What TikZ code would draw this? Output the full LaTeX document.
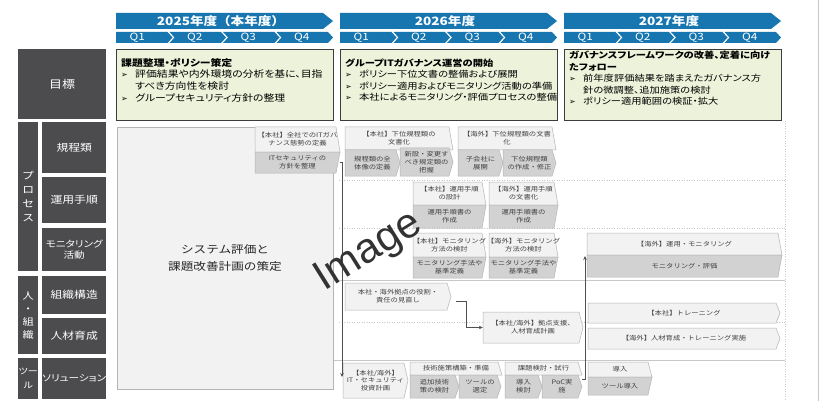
\documentclass[tikz,border=0pt]{standalone}
\usepackage{fontspec}
\setmainfont{Noto Sans CJK JP}[FakeStretch=1.18]
\newfontfamily\labfont{Noto Sans CJK JP}[FakeStretch=1.18,RawFeature=+palt]
\newfontfamily\goalfam{Noto Sans CJK JP}[FakeStretch=1.18,RawFeature=+palt]
\newfontfamily\dejavu{DejaVu Sans}
\newfontfamily\wmfont{Liberation Sans}
\usetikzlibrary{arrows.meta,calc}
\definecolor{hdr}{RGB}{23,117,176}
\definecolor{labg}{RGB}{76,76,78}
\definecolor{goalf}{RGB}{237,243,218}
\definecolor{goalb}{RGB}{60,60,60}
\definecolor{cellL}{RGB}{242,242,242}
\definecolor{cellD}{RGB}{210,210,210}
\definecolor{cellB}{RGB}{180,180,180}
\definecolor{celltext}{RGB}{64,64,64}
\definecolor{gridc}{RGB}{200,200,200}
\definecolor{arrc}{RGB}{80,80,80}
\newcommand\goalfont{\goalfam\fontsize{8.7}{11.5}\selectfont}
\newcommand\goalfontA{\goalfam\fontsize{9.2}{11.7}\selectfont}
\newcommand\hdrfont{\bfseries\fontsize{11.5}{12}\selectfont}
\newcommand\qfont{\fontsize{10}{11}\selectfont}
\newcommand\celfont{\fontsize{6.2}{7.8}\selectfont}
\newcommand\bigfont{\fontsize{10.7}{17}\selectfont}
\newcommand\bulmark{\makebox[14pt][l]{\dejavu\fontsize{8}{8}\selectfont ➢}}
\newcommand\bulgap{\hspace*{14pt}}
\newcommand{\PartUp}[6]{%
  \path[uppart] (#2,#3) -- ({#4-4},#3) -- (#4,#5) -- (#2,#5) -- cycle;
  \node[celltxt,minimum width={(#4-#2)*1pt},minimum height={(#5-#3)*1pt}] (#1) at ({(#2+#4)/2},{(#3+#5)/2}) {#6};}
\newcommand{\PartLo}[6]{%
  \path[lopart] (#2,#3) -- (#4,#3) -- ({#4-4},#5) -- (#2,#5) -- cycle;
  \node[celltxt,minimum width={(#4-#2)*1pt},minimum height={(#5-#3)*1pt}] (#1) at ({(#2+#4)/2},{(#3+#5)/2}) {#6};}
\newcommand{\PentBox}[7]{%
  \path[#1] (#3,#4) -- ({#5-4},#4) -- (#5,{(#4+#6)/2}) -- ({#5-4},#6) -- (#3,#6) -- cycle;
  \node[celltxt,minimum width={(#5-#3)*1pt},minimum height={(#6-#4)*1pt}] (#2) at ({(#3+#5)/2},{(#4+#6)/2}) {#7};}
\begin{document}
\begin{tikzpicture}[x=1pt,y=-1pt,
  lab/.style={fill=labg,text=white,inner sep=0pt,align=center,anchor=north west},
  goalbox/.style={fill=goalf,draw=goalb,line width=0.9pt,inner sep=0pt,anchor=north west},
  goaltxt/.style={anchor=north west,inner sep=0pt,align=left,text=black,font=\goalfont},
  hdrshape/.style={fill=hdr},
  hdrtxt/.style={text=white,inner sep=0pt,font=\hdrfont},
  qtxt/.style={text=white,inner sep=0pt,font=\qfont},
  uppart/.style={fill=cellL,draw=cellB,line width=0.5pt},
  lopart/.style={fill=cellD,draw=cellB,line width=0.5pt},
  celltxt/.style={inner sep=0pt,align=center,text=celltext,font=\celfont},
  bigbox/.style={fill=cellL,draw=cellB,line width=0.6pt,inner sep=0pt,anchor=north west},
  gridsolid/.style={draw=gridc,line width=0.6pt},
  griddot/.style={draw=gridc,line width=0.6pt,dash pattern=on 1pt off 1.5pt},
  arr/.style={draw=arrc,line width=0.7pt,-{Stealth[length=4pt,width=3.5pt]}},
  wm/.style={font={\wmfont\fontsize{42}{42}\selectfont},text=black!80,inner sep=0pt}
]
\useasboundingbox (0,0) rectangle (827,401);
\fill[white] (0,0) rectangle (827,401);
\draw[gridc,line width=0.8pt] (818,0) -- (818,401);

% header
\foreach \xa/\ylab/\nm in {116/{2025年度（本年度）}/y25, 340/{2026年度}/y26, 564/{2027年度}/y27}{
  \fill[hdrshape] (\xa,13) -- ({\xa+207},13) -- ({\xa+217},21) -- ({\xa+207},29) -- (\xa,29) -- cycle;
  \node[hdrtxt] (\nm) at ({\xa+105},21) {\ylab};
  \foreach \q in {1,2,3,4}{
    \pgfmathsetmacro\qs{\xa+(\q-1)*53.5}
    \pgfmathsetmacro\qe{\qs+56.5}
    \pgfmathsetmacro\qn{ifthenelse(\q==1,0,5)}
    \pgfmathsetmacro\qc{(\qs+\qe)/2-3-ifthenelse(\q==1,4,0)}
    \fill[hdrshape] (\qs,32) -- ({\qe-5},32) -- (\qe,37.5) -- ({\qe-5},43) -- (\qs,43) -- ({\qs+\qn},37.5) -- cycle;
    \node[qtxt] (\nm q\q) at (\qc,37.5) {Q\q};
  }
}

% left labels
\node[lab,minimum width=88pt,minimum height=70pt,font={\labfont\fontsize{11}{13}\selectfont}] (Lgoal) at (18,49) {目標};
\node[lab,minimum width=20pt,minimum height=149pt,font={\labfont\fontsize{10}{14}\selectfont}] (Lproc) at (18,122) {プ\\ロ\\セ\\ス};
\node[lab,minimum width=64pt,minimum height=51pt,font={\labfont\fontsize{10}{12}\selectfont}] (Lkitei) at (42,122) {規程類};
\node[lab,minimum width=64pt,minimum height=46pt,font={\labfont\fontsize{10}{12}\selectfont}] (Lunyo) at (42,177) {運用手順};
\node[lab,minimum width=64pt,minimum height=43pt,font={\labfont\fontsize{9}{11.5}\selectfont}] (Lmon) at (42,228) {モニタリング\\活動};
\node[lab,minimum width=20pt,minimum height=78pt,font={\labfont\fontsize{9.5}{13}\selectfont}] (Lhito) at (18,276) {人\\・\\組\\織};
\node[lab,minimum width=64pt,minimum height=38pt,font={\labfont\fontsize{10}{12}\selectfont}] (Lsosh) at (42,276) {組織構造};
\node[lab,minimum width=64pt,minimum height=36pt,font={\labfont\fontsize{10}{12}\selectfont}] (Ljinz) at (42,318) {人材育成};
\node[lab,minimum width=20pt,minimum height=41pt,font={\labfont\fontsize{8.5}{14}\selectfont}] (Ltool) at (18,358) {ツー\\ル};
\node[lab,minimum width=64pt,minimum height=41pt,font={\labfont\fontsize{9}{12}\selectfont}] (Lsol) at (42,358) {ソリューション};

% goal boxes
\node[goalbox,minimum width=217pt,minimum height=71pt] (g25) at (116,49) {};
\node[goaltxt,font=\goalfontA] (g25t) at (121,58) {\textbf{課題整理・ポリシー策定}\\
\bulmark 評価結果や内外環境の分析を基に、目指\\
\bulgap すべき方向性を検討\\
\bulmark グループセキュリティ方針の整理};
\node[goalbox,minimum width=217pt,minimum height=71pt] (g26) at (340,49) {};
\node[goaltxt] (g26t) at (345,58.5) {\textbf{グループITガバナンス運営の開始}\\
\bulmark ポリシー下位文書の整備および展開\\
\bulmark ポリシー適用およびモニタリング活動の準備\\
\bulmark 本社によるモニタリング・評価プロセスの整備};
\node[goalbox,minimum width=217pt,minimum height=71pt] (g27) at (564,49) {};
\node[goaltxt] (g27t) at (569,51) {\textbf{ガバナンスフレームワークの改善、定着に向け}\\
\textbf{たフォロー}\\
\bulmark 前年度評価結果を踏まえたガバナンス方\\
\bulgap 針の微調整、追加施策の検討\\
\bulmark ポリシー適用範囲の検証・拡大};

% grid
\draw[griddot] (339,180) -- (785,180);
\draw[griddot] (339,228) -- (785,228);
\draw[griddot] (339,322) -- (785,322);
\draw[gridsolid] (333,280) -- (785,280);
\draw[gridsolid] (333,360) -- (785,360);
\draw[griddot] (785,121) -- (785,401);

% big box
\node[bigbox,minimum width=216pt,minimum height=262pt] (sys) at (117,127) {};
\node[inner sep=0pt,align=center,text=black!85,font=\bigfont] (syst) at (225,258) {システム評価と\\課題改善計画の策定};

% cells
\PartUp{c1u}{255}{127}{340}{152}{【本社】全社でのITガバ\\ナンス態勢の定義}
\PartLo{c1l}{255}{152}{340}{173}{ITセキュリティの\\方針を整理}
\PartUp{c2u}{345}{127}{453}{150}{【本社】下位規程類の\\文書化}
\PentBox{lopart}{c2a}{345}{150}{400}{176}{規程類の全\\体像の定義}
\PentBox{lopart}{c2b}{400}{148}{453}{176}{新設・変更す\\べき規定類の\\把握}
\PartUp{c3u}{458}{127}{556}{150}{【海外】下位規程類の文書\\化}
\PentBox{lopart}{c3a}{458}{150}{503}{176}{子会社に\\展開}
\PentBox{lopart}{c3b}{503}{150}{556}{176}{下位規程類\\の作成・修正}
\PartUp{c4u}{413}{182}{486}{205}{【本社】運用手順\\の設計}
\PartLo{c4l}{413}{205}{486}{228}{運用手順書の\\作成}
\PartUp{c5u}{489}{182}{558}{205}{【海外】運用手順\\の文書化}
\PartLo{c5l}{489}{205}{558}{228}{運用手順書の\\作成}
\PartUp{c6u}{413}{233}{486}{257}{【本社】モニタリング\\方法の検討}
\PartLo{c6l}{413}{257}{486}{278}{モニタリング手法や\\基準定義}
\PartUp{c7u}{489}{233}{558}{257}{【海外】モニタリング\\方法の検討}
\PartLo{c7l}{489}{257}{558}{278}{モニタリング手法や\\基準定義}
\PartUp{c8u}{587}{233}{782}{255}{【海外】運用・モニタリング}
\PartLo{c8l}{587}{255}{782}{277}{モニタリング・評価}
\PentBox{uppart}{role}{345}{283}{451}{310}{本社・海外拠点の役割・\\責任の見直し}
\PentBox{uppart}{sup}{483}{312}{583}{343}{【本社/海外】拠点支援、\\人材育成計画}
\PentBox{uppart}{trn}{588}{303}{780}{323}{【本社】トレーニング}
\PentBox{uppart}{hrd}{588}{328}{780}{349}{【海外】人材育成・トレーニング実施}
\PentBox{uppart}{inv}{343}{363}{408}{398}{【本社/海外】\\IT・セキュリティ\\投資計画}
\PartUp{c14u}{410}{362}{502}{375}{技術施策構築・準備}
\PentBox{lopart}{c14a}{410}{375}{459}{398}{追加技術\\策の検討}
\PentBox{lopart}{c14b}{459}{375}{501}{398}{ツールの\\選定}
\PartUp{c15u}{505}{362}{582}{375}{課題検討・試行}
\PentBox{lopart}{c15a}{505}{375}{542}{398}{導入\\検討}
\PentBox{lopart}{poc}{542}{375}{582}{398}{PoC実\\施}
\PartUp{c16u}{588}{362}{652}{377}{導入}
\PartLo{c16l}{588}{377}{652}{395}{ツール導入}

% connectors
\coordinate (a1) at (342,377);
\coordinate (a2) at (585,256);
\draw[arr] (c1l.east) -| (a1);
\draw[arr] ([yshift=7pt]poc.east) -| (a2);
\draw[arr] ([xshift=5pt,yshift=-5pt]role.east) -| ($(sup.west)+(-16,0)$) -- (sup.west);

% watermark
\node[wm,rotate=32] (wmk) at (369,252) {Image};
\end{tikzpicture}
\end{document}
